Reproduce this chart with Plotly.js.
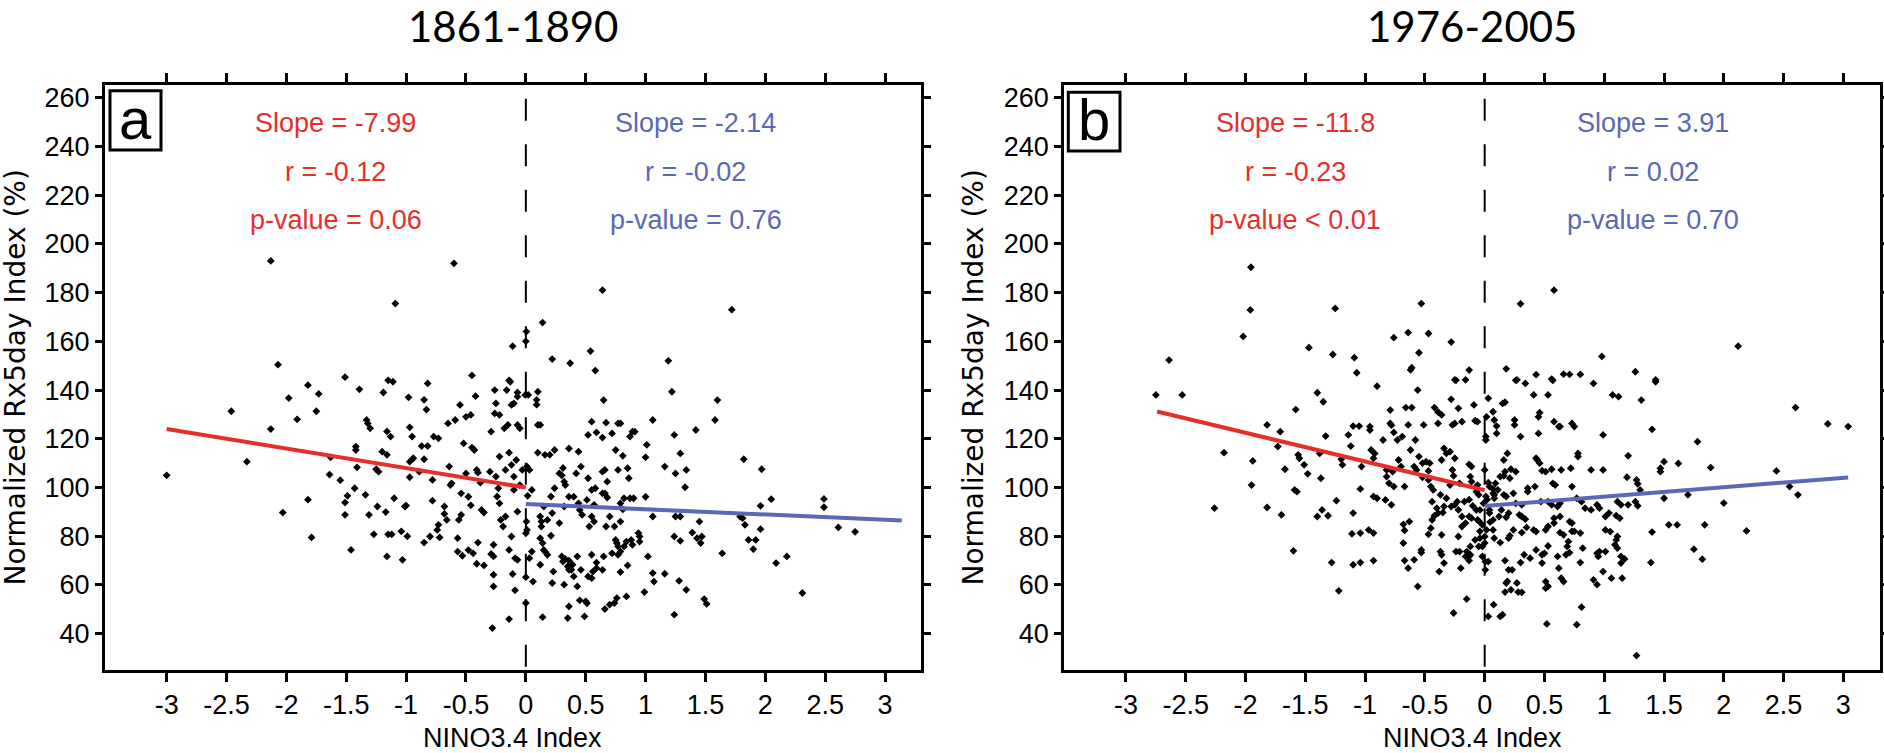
<!DOCTYPE html>
<html><head><meta charset="utf-8">
<script src="https://cdn.plot.ly/plotly-3.0.1.min.js"></script>
<style>html,body{margin:0;padding:0;background:#fff;overflow:hidden}#chart{width:1884px;height:753px}</style>
</head><body><div id="chart"></div>
<script>
// ---------------- data ----------------
const periods = ['1861-1890', '1976-2005'];
const panelLetters = ['a', 'b'];
const xTitle = 'NINO3.4 Index';
const yTitle = 'Normalized Rx5day Index (%)';
const xTickVals = [-3, -2.5, -2, -1.5, -1, -0.5, 0, 0.5, 1, 1.5, 2, 2.5, 3];
const xTickText = ['-3', '-2.5', '-2', '-1.5', '-1', '-0.5', '0', '0.5', '1', '1.5', '2', '2.5', '3'];
const yTickVals = [40, 60, 80, 100, 120, 140, 160, 180, 200, 220, 240, 260];
const yTickText = ['40', '60', '80', '100', '120', '140', '160', '180', '200', '220', '240', '260'];

// panel a (1861-1890): [NINO3.4, Rx5day %]
const pointsA = [
[-2.13,193],[-0.60,192],[-1.09,175.5],[0.64,181],[1.72,173],[0.14,167.7],[0.005,164],[0.0,160],[-0.11,158],[0.54,156],[0.22,152.7],[0.37,151],[1.19,152],[0.58,148],[-2.07,150.4],[-1.51,145.3],[-1.15,144],[-0.45,146],[-0.14,144],
[-1.11,143.4],[-1.39,140.3],[-1.19,139],[-0.98,137],[-0.82,142.7],[-0.85,136],[-1.82,142],[-1.73,138.4],[-1.98,136.7],[-2.46,131.3],[-1.91,128],[-1.75,131.3],[-2.13,124],[-2.33,110.6],[-3.0,105],[-2.03,89.7],[-1.82,95],[-1.79,79.5],[-1.46,74.4],[-1.64,105.3],[-1.63,112.4],[-1.55,103],[-1.42,115.4],[-1.42,116.8],[-1.41,108.3],[-1.49,96.6],[-1.43,99.7],[-1.51,88.8],[-1.51,93.8],[-1.34,97],[-1.33,127.7],[-1.32,126.3],[-1.30,124.3],[-1.24,92.2],[-1.31,88.8],[-1.27,80.8],[-1.25,107.5],[-1.23,106.5],[-1.20,114.7],[-1.16,113.4],[-1.16,123],[-1.13,120.9],[-1.17,89.9],[-1.10,95.6],[-1.15,80.8],[-1.12,80.8],[-1.16,71.7],[-1.03,70.3],[-1.04,82],[-0.99,80],[-1.01,92.2],[-1.0,92.6],[-0.97,104.2],[-0.97,110.6],[-0.97,124.7],[-0.95,120.9],[-0.94,112],[-0.89,106.5],[-0.85,111.6],[-0.83,132],[-0.87,117],[-0.82,117],[-0.78,94.6],[-0.78,103.1],[-0.85,77.4],[-0.80,79.9],[-0.74,82.6],[-0.73,84.7],[-0.72,79.5],[-0.68,92.2],[-0.68,89.2],[-0.66,86.7],[-0.63,101],[-0.64,108.6],[-0.62,101.7],[-0.77,120.9],[-0.73,120.2],[-0.65,126.3],[-0.59,127.7],[-0.55,133.9],[-0.56,86.7],[-0.54,88.8],[-0.52,118.1],[-0.50,129],[-0.46,129.8],[-0.45,116.4],[-0.43,115.4],[-0.42,137.5],[-0.50,105.8],[-0.54,97.6],[-0.48,96.2],[-0.46,92.7],[-0.41,107.2],[-0.40,106.1],[-0.38,102],[-0.35,89.7],[-0.37,90.8],[-0.57,79.2],[-0.57,73.7],[-0.53,72],[-0.48,74.3],[-0.44,73],[-0.41,68.7],[-0.35,68],[-0.40,77.4],[-0.27,76.5],[-0.29,72.7],[-0.27,71.7],[-0.27,64.2],[-0.27,59.4],[-0.28,42.3],[-0.14,46],[-0.09,57.8],[-0.11,64.5],[-0.09,71],[-0.07,70.3],[-0.12,79.9],[-0.14,74.4],[-0.19,84],[-0.21,86.7],[-0.17,88.1],[-0.22,93.5],[-0.24,96.3],[-0.23,99.7],[-0.25,104.5],[-0.30,106.5],[-0.17,107.2],[-0.22,112.7],[-0.14,114.3],[-0.18,124.3],[-0.15,125.7],[-0.26,130.4],[-0.22,129.8],[-0.29,122.9],[-0.25,134.5],[-0.26,140],[-0.13,143.4],[-0.16,140],[-0.07,139],[-0.12,133.9],[-0.10,134.5],[-0.07,137.3],[-0.07,125.7],[-0.05,124.3],[-0.08,111.3],[-0.12,109.3],[-0.10,104.5],[-0.10,99],[-0.05,101],[-0.03,107.2],[-0.07,90.1],[-0.005,138],[0.02,138],[0.10,139.3],[0.09,136],[0.09,134],[0.10,125.7],[0.12,125.7],[0.03,107.2],[0.01,108.6],[0.05,99],[0.015,96.6],[0.005,86],[0.01,82.6],[0.0,81.2],[0.10,114.3],[0.16,113.4],[0.20,113.4],[0.24,115.4],[0.36,116],[0.44,114.7],[0.46,108.6],[0.31,108],[0.28,105.8],[0.30,105],[0.42,105.8],[0.32,102.4],[0.33,101],[0.24,99.7],[0.21,96.3],[0.15,92.2],[0.22,89.5],[0.18,86.7],[0.13,86],[0.13,84],[0.12,88.1],[0.28,85.4],[0.36,96.2],[0.40,96.2],[0.44,93.5],[0.47,88.8],[0.45,90.8],[0.32,92.2],[0.21,80.2],[0.12,79.2],[0.14,77.2],[0.15,74.4],[0.16,73.7],[0.18,72.4],[0.05,73.7],[0.03,71],[0.12,68.3],[0.06,61.4],[0.0,63.2],[0.0,52.6],[0.14,46.8],[0.23,65.5],[0.22,60.8],[0.30,71.7],[0.31,69.6],[0.35,67.6],[0.36,66.2],[0.38,66.2],[0.36,70],[0.33,70.7],[0.39,68.3],[0.43,71.7],[0.40,63.5],[0.46,66.2],[0.32,60.1],[0.43,59.4],[0.35,46.4],[0.36,51.2],[0.49,47.1],[0.45,53.7],[0.50,53.3],[0.51,52.5],[0.52,63.5],[0.55,62.8],[0.56,65.5],[0.59,66.9],[0.55,72.4],[0.59,69.2],[0.57,86],[0.53,84],[0.55,88.1],[0.57,92.9],[0.51,94.9],[0.55,99],[0.58,99.7],[0.64,97.6],[0.68,95.9],[0.66,107.2],[0.64,106.5],[0.52,103.8],[0.52,121.6],[0.59,122.6],[0.55,127],[0.65,135.9],[0.67,126.6],[0.64,120.5],[0.72,122.2],[0.77,126.3],[0.79,126.3],[0.89,122.9],[0.91,122.9],[0.87,120.9],[1.06,127.7],[0.75,115.4],[0.81,113],[0.85,107.9],[0.77,107.2],[0.86,103.8],[0.68,102.4],[0.66,97.6],[0.82,95.6],[0.87,95.6],[0.90,95.6],[0.79,93.5],[0.81,91],[1.0,96.2],[1.06,88.1],[1.01,117.5],[1.0,112.4],[1.16,108.6],[1.24,121.6],[1.22,139.3],[1.29,114],[1.25,105.8],[1.34,107.2],[1.33,100.1],[1.25,88.1],[1.29,88.1],[1.42,123.6],[1.58,127.7],[1.60,135.9],[0.67,84],[0.74,84],[0.79,86],[0.70,88.1],[0.94,81.3],[0.95,79.9],[0.88,78.5],[0.84,77.8],[0.75,78.5],[0.76,77.2],[0.77,75.8],[0.79,73.7],[0.82,75.8],[0.89,76.5],[0.95,77.8],[1.02,71.7],[0.77,72.4],[0.65,71.7],[0.64,66.2],[0.72,73],[0.79,65.3],[0.85,68],[1.06,64.9],[1.07,61.4],[1.16,64.6],[1.28,61.7],[1.34,58],[0.99,57.1],[0.84,55.3],[0.76,54.6],[0.74,52.6],[0.70,51.9],[0.66,50.1],[1.24,47.8],[1.49,54.2],[1.51,52.2],[1.24,79.9],[1.29,78.1],[1.39,81.5],[1.43,79.2],[1.46,77.2],[1.45,86],[1.47,79.9],[1.64,73],[1.82,111.6],[1.97,107.5],[2.05,95.2],[1.96,92.5],[1.79,88.1],[1.81,87.4],[1.83,84.7],[1.96,82.9],[1.86,78.5],[1.92,78.5],[1.90,74.7],[2.09,69],[2.18,71.7],[2.31,56.7],[2.49,95.3],[2.49,91.9],[2.61,83.6],[2.75,81.8]
];

// panel b (1976-2005)
const pointsB = [
[-1.955,190.4],[-1.96,172.9],[-2.02,162],[-2.64,152.3],[-1.25,173.5],[-1.47,157.4],[-1.27,154.6],[-1.09,153.3],[-1.07,147.1],[-0.76,161.5],[-0.64,163.6],[-0.53,175.5],[-0.47,163.2],[-0.55,155.3],[-0.61,149.2],[-0.62,148.3],[-0.28,159.7],[-0.13,148.2],[-0.25,144.2],[-0.16,144.2],[0.30,175.4],[0.58,181],[0.18,148.7],[0.43,146.3],[0.27,144.2],[0.56,144.5],[0.71,146.4],[0.80,146.4],[0.98,153.8],[1.26,147.5],[1.43,144.2],[2.12,158],
[-2.75,138],[-2.53,138],[-2.18,114.3],[-2.26,91.5],[-1.94,110.9],[-1.95,101],[-1.82,125.7],[-1.71,122.9],[-1.73,116.8],[-1.82,91.8],[-1.70,88.8],[-1.67,107.5],[-1.60,74],[-1.58,132],[-1.56,113.4],[-1.55,112],[-1.59,99],[-1.57,98.3],[-1.51,109.3],[-1.48,105.6],[-1.40,138.9],[-1.35,135.2],[-1.38,114],[-1.33,121.1],[-1.37,103.8],[-1.36,90.8],[-1.40,88.1],[-1.31,88.4],[-1.28,69.2],[-1.24,94.6],[-1.22,57.6],[-1.20,111.6],[-1.19,109.3],[-1.14,121.6],[-1.12,117],[-1.10,125.2],[-1.05,125.2],[-0.96,125],[-0.96,123.6],[-1.10,89.5],[-1.11,81],[-1.04,81.3],[-1.10,68.3],[-1.04,69.2],[-0.97,82.6],[-0.93,81.3],[-0.93,70],[-1.04,99.4],[-1.03,108.6],[-0.95,115.4],[-0.93,112],[-0.92,114],[-0.90,141.6],[-0.93,96.3],[-0.90,95.6],[-0.85,119.5],[-0.83,94.9],[-0.78,92.9],[-0.79,131.8],[-0.79,126.3],[-0.78,125.6],[-0.82,104.5],[-0.80,101.7],[-0.82,107.2],[-0.77,106.5],[-0.76,122.6],[-0.73,119.5],[-0.72,111.3],[-0.76,100.4],[-0.69,120.9],[-0.70,108.6],[-0.67,100.4],[-0.66,132.8],[-0.64,125.7],[-0.68,84.9],[-0.67,82.4],[-0.68,77.2],[-0.67,70],[-0.64,66.9],[-0.63,86],[-0.61,132.8],[-0.62,115.4],[-0.58,119.5],[-0.59,108.6],[-0.57,107.2],[-0.59,70.3],[-0.53,74.4],[-0.53,73.3],[-0.56,59.4],[-0.56,140],[-0.55,112.7],[-0.52,110],[-0.51,125.7],[-0.49,110.6],[-0.47,106.8],[-0.52,104.2],[-0.46,110],[-0.47,103.1],[-0.45,100.4],[-0.43,99],[-0.44,94.2],[-0.42,132.8],[-0.39,131],[-0.36,129.8],[-0.39,126.3],[-0.36,111.3],[-0.37,97],[-0.40,91.5],[-0.39,89.5],[-0.35,89.7],[-0.44,86.7],[-0.45,83.3],[-0.42,88.4],[-0.47,80.8],[-0.36,80.6],[-0.37,73.7],[-0.36,72.4],[-0.38,65.5],[-0.34,69],[-0.34,92.2],[-0.32,95.6],[-0.34,116.1],[-0.32,114],[-0.29,114.7],[-0.28,136.2],[-0.27,125.7],[-0.25,126.3],[-0.27,107.2],[-0.26,104.8],[-0.29,101],[-0.25,112],[-0.24,144],[-0.22,132.5],[-0.19,127],[-0.21,101.7],[-0.24,73.7],[-0.26,48.5],[-0.15,54.2],[-0.20,66.9],[-0.16,71.7],[-0.15,73.7],[-0.13,71.7],[-0.13,70],[-0.08,78.5],[-0.13,95],[-0.17,94.2],[-0.11,108.6],[-0.13,109.5],[-0.12,104.5],[-0.11,102.4],[-0.09,133.9],[-0.08,127.4],[-0.06,127],[-0.06,101],[-0.07,98.3],[-0.05,97],[-0.04,90.8],[-0.05,86.3],[-0.04,82],[-0.04,79.2],[-0.02,75.8],[0.005,69.6],[0.015,129],[0.01,120.9],[0.01,119.5],[0.0,107.2],[0.01,96.3],[-0.01,93.5],[0.03,47.1],[0.075,51.9],[0.15,47.8],[0.13,47.1],[0.18,60.8],[0.19,61.5],[0.17,57.1],[0.28,57.1],[0.22,58],[0.03,136.6],[0.10,125.2],[0.10,122.2],[0.17,135],[0.15,134.5],[0.25,127.7],[0.25,125.7],[0.26,144],[0.34,142.7],[0.41,138],[0.30,120.9],[0.46,130.7],[0.45,129],[0.53,138],[0.57,144],[0.45,122.2],[0.44,111.3],[0.43,112],[0.46,110],[0.48,106.9],[0.58,127],[0.62,125],[0.63,125],[0.66,146.5],[0.73,126.3],[0.75,125],[0.78,114],[0.78,112.7],[0.91,142.7],[0.99,121.6],[1.07,138],[1.12,137.3],[1.20,113],[1.31,135.9],[1.40,123.9],[1.43,143.4],[1.19,104.2],[1.27,103.1],[1.28,101.5],[1.30,99],[0.99,107.2],[0.89,107.2],[0.72,107.9],[0.64,107.2],[0.56,107.5],[0.51,106.5],[1.78,118.8],[1.89,108.2],[1.47,107.9],[1.47,106.5],[1.50,110.6],[1.62,109.9],[1.70,97],[1.50,95.6],[1.54,84.7],[1.61,84.7],[1.40,81.7],[1.39,69.2],[1.75,74.7],[1.82,70.6],[1.84,84.7],[2.00,93.6],[2.19,82.2],[2.44,106.8],[2.55,100.4],[2.62,97],[2.60,132.8],[2.87,126.1],[3.04,125],[1.27,31],[0.81,50.9],[0.77,43.7],[0.52,44],
[0.23,66.2],[0.27,60.8],[0.31,57],[0.30,69.2],[0.33,72.4],[0.38,71],[0.43,74.4],[0.48,72.4],[0.50,73],[0.48,69],[0.51,61.4],[0.51,58.7],[0.53,59.4],[0.64,62.8],[0.66,61.4],[0.62,66.9],[0.61,71.7],[0.68,72.4],[0.69,75.8],[0.70,77.8],[0.66,80.6],[0.63,81.5],[0.73,82],[0.75,82],[0.80,81.3],[0.73,85.4],[0.71,86],[0.63,88.1],[0.58,87.4],[0.58,85.4],[0.53,84],[0.51,82.6],[0.41,82.6],[0.43,81.9],[0.35,83.6],[0.31,81.5],[0.24,82.6],[0.21,80.2],[0.20,79.2],[0.13,77.4],[0.08,79.2],[0.07,82.6],[0.07,86.7],[0.12,88.1],[0.14,90.8],[0.20,89.5],[0.18,87.8],[0.29,88.8],[0.31,88.1],[0.34,87],[0.31,92.9],[0.26,93.5],[0.08,95.6],[0.08,97],[0.16,97],[0.18,96.3],[0.24,97.6],[0.36,99.7],[0.36,98.3],[0.42,100.4],[0.47,94.2],[0.53,94.2],[0.56,92.9],[0.61,92.2],[0.63,93.5],[0.57,101.7],[0.59,101],[0.73,100.4],[0.77,95.6],[0.81,94.2],[0.84,91.5],[0.94,92.9],[0.96,91.5],[0.89,90.8],[1.01,88.1],[1.04,89.5],[1.11,94.2],[1.14,92.9],[1.20,92.9],[1.26,94.2],[1.28,92.5],[1.10,88.5],[1.13,87.4],[1.01,82.6],[1.05,81.9],[1.11,79.9],[1.10,78.5],[1.09,76.5],[1.11,75.1],[0.96,73.7],[0.94,73],[1.01,73.7],[1.14,71.7],[1.17,70.7],[1.14,69],[0.95,71.7],[0.99,65.5],[1.06,62.8],[1.15,62.8],[0.91,62.1],[0.94,60.1],[0.80,69.2],[0.82,75.1],[0.71,73.3],[0.53,76],[0.08,127.7],[0.07,131.1],[0.19,114],[0.16,111.3],[0.17,106.5],[0.22,107.5],[0.26,106.5],[0.21,103.8],[0.13,104.5],[0.16,104.8],[0.09,101.7],[0.03,102],[0.04,100.4],[0.07,99.4],[0.07,97.6],[0.11,99],[0.02,95],[0.04,90.8],[0.04,89.5],[0.045,85.8],[0.015,82.6],[-0.02,84.7],[-0.06,86.7],[0.0,79.9],[0.0,77.2],[-0.05,75.8],[-0.02,71.7],[-0.12,72.4],[-0.12,75.8],[-0.21,73.7],[0.005,66.2],[0.03,69.6],[0.17,70],[0.2,66.2],[-0.28,92.2],[-0.25,92.9],[-0.23,94.2],[-0.22,90.8],[-0.19,88.1],[-0.19,84],[-0.16,85.4],[-0.22,79.9],[-0.13,88.1],[-0.11,87.4],[-0.10,92.5],[-0.07,90.8]
];

// regression fits (La Nina side / El Nino side), endpoints
const fitA_negX = [-3, 0],     fitA_negY = [124, 100];
const fitA_posX = [0, 3.14],   fitA_posY = [93.2, 86.5];
const fitB_negX = [-2.74, 0],  fitB_negY = [131.2, 98.9];
const fitB_posX = [0, 3.04],   fitB_posY = [92.4, 104.1];

const statsA_neg = ['Slope = -7.99', 'r = -0.12', 'p-value = 0.06'];
const statsA_pos = ['Slope = -2.14', 'r = -0.02', 'p-value = 0.76'];
const statsB_neg = ['Slope = -11.8', 'r = -0.23', 'p-value < 0.01'];
const statsB_pos = ['Slope = 3.91', 'r = 0.02', 'p-value = 0.70'];

// ---------------- layout helpers (pixel geometry) ----------------
const W = 1884, H = 753;
const px = v => v / W, py = v => 1 - v / H;
const RED = '#e62e2a', BLUE = '#5a68b5';
const FONT = 'Liberation Sans, Arial, Helvetica, sans-serif';

function axisX(dom, rng) {
  return {domain: dom, range: rng, showgrid: false, zeroline: false, showline: true,
    linecolor: '#000', linewidth: 3, mirror: 'ticks', ticks: 'outside', ticklen: 9,
    tickwidth: 3, tickcolor: '#000', tickmode: 'array', tickvals: xTickVals, ticktext: xTickText,
    tickfont: {family: FONT, size: 27, color: '#000'}, fixedrange: true};
}
function axisY(dom, rng) {
  return {domain: dom, range: rng, showgrid: false, zeroline: false, showline: true,
    linecolor: '#000', linewidth: 3, mirror: 'ticks', ticks: 'outside', ticklen: 7,
    tickwidth: 3, tickcolor: '#000', tickmode: 'array', tickvals: yTickVals, ticktext: yTickText,
    tickfont: {family: FONT, size: 27, color: '#000'}, fixedrange: true};
}

const yDom = [py(670), py(85)];
const yRange = [25.1, 265.2];
const panels = [
  {pts: pointsA, xa: 'x', ya: 'y', left: 105, right: 920.7, xr: [-3.515, 3.298],
   fits: [[fitA_negX, fitA_negY, RED], [fitA_posX, fitA_posY, BLUE]],
   stats: [[statsA_neg, 335.5, RED], [statsA_pos, 695.5, BLUE]],
   box: [110, 90.7, 161, 150], ytx: 15},
  {pts: pointsB, xa: 'x2', ya: 'y2', left: 1064.3, right: 1879.7, xr: [-3.516, 3.304],
   fits: [[fitB_negX, fitB_negY, RED], [fitB_posX, fitB_posY, BLUE]],
   stats: [[statsB_neg, 1295, RED], [statsB_pos, 1652.5, BLUE]],
   box: [1068.3, 92.3, 1120, 151], ytx: 973}
];

const traces = [], shapes = [], annotations = [];
const layout = {
  width: W, height: H, margin: {l: 0, r: 0, t: 0, b: 0},
  paper_bgcolor: '#fff', plot_bgcolor: '#fff', showlegend: false,
  font: {family: FONT, size: 27, color: '#000'},
  shapes, annotations
};

panels.forEach((p, i) => {
  const sfx = i === 0 ? '' : '2';
  layout['xaxis' + sfx] = Object.assign(axisX([px(p.left), px(p.right)], p.xr), {anchor: p.ya});
  layout['yaxis' + sfx] = Object.assign(axisY(yDom, yRange), {anchor: p.xa});

  traces.push({type: 'scatter', mode: 'markers', xaxis: p.xa, yaxis: p.ya,
    x: p.pts.map(d => d[0]), y: p.pts.map(d => d[1]),
    marker: {symbol: 'diamond', size: 6, color: '#000', line: {width: 0}}, hoverinfo: 'skip'});
  p.fits.forEach(f => traces.push({type: 'scatter', mode: 'lines', xaxis: p.xa, yaxis: p.ya,
    x: f[0], y: f[1], line: {color: f[2], width: 4}, hoverinfo: 'skip'}));

  // dashed zero line
  shapes.push({type: 'line', xref: p.xa, yref: p.ya, x0: 0, x1: 0, y0: 259.6, y1: yRange[0],
    line: {color: '#000', width: 2, dash: '22px,23.5px'}, layer: 'above'});
  // panel label box
  shapes.push({type: 'rect', xref: 'paper', yref: 'paper',
    x0: px(p.box[0]), x1: px(p.box[2]), y0: py(p.box[3]), y1: py(p.box[1]),
    line: {color: '#000', width: 3}, fillcolor: '#fff', layer: 'above'});
  annotations.push({xref: 'paper', yref: 'paper', x: px((p.box[0] + p.box[2]) / 2),
    y: py((p.box[1] + p.box[3]) / 2 - 2), xanchor: 'center', yanchor: 'middle', showarrow: false,
    text: panelLetters[i], font: {family: FONT, size: 58, color: '#000'}});

  // period title
  annotations.push({xref: 'paper', yref: 'paper', x: px((p.left + p.right) / 2), y: py(26),
    xanchor: 'center', yanchor: 'middle', showarrow: false, text: periods[i],
    font: {family: 'Lato, Open Sans, sans-serif', size: 42, color: '#000'}});
  // axis titles
  annotations.push({xref: 'paper', yref: 'paper', x: px((p.left + p.right) / 2), y: py(737.5),
    xanchor: 'center', yanchor: 'middle', showarrow: false, text: xTitle,
    font: {family: FONT, size: 27, color: '#000'}});
  annotations.push({xref: 'paper', yref: 'paper', x: px(p.ytx), y: py(377.5),
    xanchor: 'center', yanchor: 'middle', showarrow: false, text: yTitle, textangle: -90,
    font: {family: 'DejaVu Sans, sans-serif', size: 28, color: '#000'}});

  // statistics text
  p.stats.forEach(s => {
    const ys = [123.3, 172, 220];
    s[0].forEach((t, k) => annotations.push({xref: 'paper', yref: 'paper', x: px(s[1]), y: py(ys[k]),
      xanchor: 'center', yanchor: 'middle', showarrow: false, text: t,
      font: {family: FONT, size: 27, color: s[2]}}));
  });
});

Plotly.newPlot('chart', traces, layout, {displayModeBar: false, staticPlot: true});
</script>
</body></html>
